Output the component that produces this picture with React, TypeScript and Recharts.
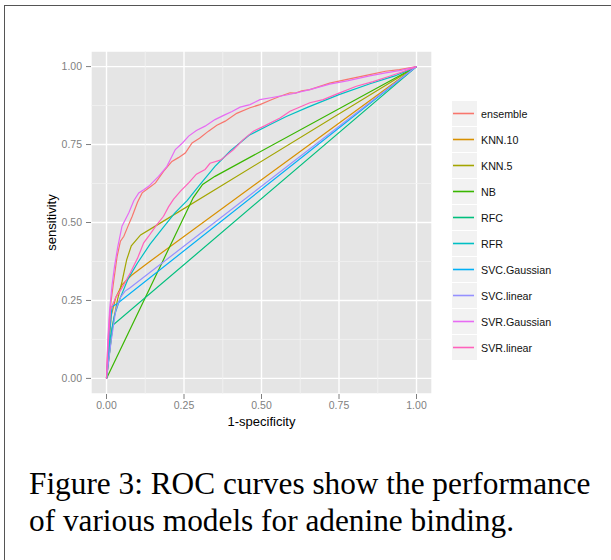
import * as React from 'react'
import {
    LineChart,
    Line,
    XAxis,
    YAxis,
    CartesianGrid,
    ReferenceLine,
} from 'recharts'

// ROC curves, [1-specificity, sensitivity]
const ensemble = [
    [0, 0], [0.004, 0.1], [0.01, 0.2], [0.015, 0.25], [0.023, 0.31], [0.034, 0.39],
    [0.045, 0.44], [0.056, 0.456], [0.07, 0.49], [0.083, 0.52], [0.1, 0.565],
    [0.115, 0.595], [0.135, 0.61], [0.158, 0.627], [0.184, 0.664], [0.211, 0.696],
    [0.232, 0.708], [0.254, 0.723], [0.276, 0.755], [0.3, 0.77], [0.329, 0.793],
    [0.356, 0.812], [0.383, 0.825], [0.42, 0.85], [0.463, 0.868], [0.495, 0.878],
    [0.53, 0.893], [0.56, 0.905], [0.592, 0.916], [0.61, 0.915], [0.63, 0.922],
    [0.656, 0.926], [0.72, 0.947], [0.78, 0.96], [0.849, 0.974], [0.9, 0.985],
    [0.945, 0.99], [1, 1],
]
const knn10 = [
    [0, 0], [0.015, 0.2], [0.03, 0.26], [0.05, 0.3], [0.08, 0.33], [0.13, 0.368], [1, 1],
]
const knn5 = [
    [0, 0], [0.02, 0.17], [0.035, 0.25], [0.05, 0.31], [0.065, 0.38], [0.08, 0.425],
    [0.11, 0.46], [0.16, 0.49], [1, 1],
]
const nb = [
    [0, 0], [0.28, 0.58], [0.31, 0.622], [0.35, 0.648], [1, 1],
]
const rfc = [
    [0, 0], [0.02, 0.17], [1, 1],
]
const rfr = [
    [0, 0], [0.01, 0.12], [0.025, 0.2], [0.045, 0.26], [0.07, 0.32], [0.1, 0.37],
    [0.14, 0.43], [0.18, 0.48], [0.22, 0.53], [0.26, 0.57], [0.3, 0.62], [0.35, 0.68],
    [0.4, 0.73], [0.46, 0.78], [0.52, 0.81], [0.58, 0.84], [0.65, 0.87], [0.75, 0.91],
    [0.85, 0.945], [0.93, 0.97], [1, 1],
]
const svcGaussian = [
    [0, 0], [0.01, 0.15], [0.018, 0.23], [0.035, 0.24], [1, 1],
]
const svcLinear = [
    [0, 0], [0.015, 0.12], [0.03, 0.22], [0.045, 0.26], [0.06, 0.28], [0.075, 0.29], [1, 1],
]
const svrGaussian = [
    [0, 0], [0.004, 0.12], [0.01, 0.22], [0.018, 0.3], [0.026, 0.36], [0.036, 0.42],
    [0.05, 0.488], [0.072, 0.531], [0.088, 0.57], [0.104, 0.595], [0.12, 0.605],
    [0.136, 0.616], [0.168, 0.648], [0.195, 0.68], [0.21, 0.71], [0.222, 0.734],
    [0.245, 0.755], [0.265, 0.777], [0.29, 0.795], [0.318, 0.809], [0.35, 0.83],
    [0.383, 0.846], [0.405, 0.856], [0.431, 0.87], [0.463, 0.878], [0.495, 0.894],
    [0.53, 0.9], [0.56, 0.905], [0.6, 0.913], [0.656, 0.926], [0.72, 0.944],
    [0.78, 0.955], [0.849, 0.97], [0.9, 0.98], [0.95, 0.988], [1, 1],
]
const svrLinear = [
    [0, 0], [0.005, 0.1], [0.013, 0.221], [0.03, 0.26], [0.05, 0.29], [0.077, 0.339],
    [0.1, 0.385], [0.12, 0.435], [0.136, 0.456], [0.16, 0.49], [0.184, 0.52], [0.2, 0.55],
    [0.216, 0.574], [0.238, 0.6], [0.265, 0.627], [0.29, 0.655], [0.318, 0.67],
    [0.334, 0.69], [0.367, 0.7], [0.383, 0.712], [0.41, 0.734], [0.44, 0.765],
    [0.474, 0.793], [0.51, 0.81], [0.56, 0.835], [0.592, 0.857], [0.656, 0.884],
    [0.699, 0.894], [0.75, 0.915], [0.806, 0.937], [0.86, 0.952], [0.913, 0.969],
    [0.96, 0.985], [1, 1],
]

const seriesNames = [
    'ensemble', 'KNN.10', 'KNN.5', 'NB', 'RFC', 'RFR',
    'SVC.Gaussian', 'SVC.linear', 'SVR.Gaussian', 'SVR.linear',
]
const seriesColors = [
    '#F8766D', '#D89000', '#A3A500', '#39B600', '#00BF7D', '#00BFC4',
    '#00B0F6', '#9590FF', '#E76BF3', '#FF62BC',
]
const seriesPoints = [
    ensemble, knn10, knn5, nb, rfc, rfr, svcGaussian, svcLinear, svrGaussian, svrLinear,
]

const majorTicks = [0, 0.25, 0.5, 0.75, 1]
const minorTicks = [0.125, 0.375, 0.625, 0.875]

const series = seriesNames.map((name, i) => ({
    name,
    color: seriesColors[i],
    data: seriesPoints[i].map(([x, y]) => ({ x, y })),
}))

const tickStyle = { fontFamily: 'Liberation Sans, Arial, sans-serif', fontSize: 10.5, fill: '#7F7F7F' }
const titleStyle = { fontFamily: 'Liberation Sans, Arial, sans-serif', fontSize: 13, fill: '#000' }

const RocLegend = () => (
    <div style={{ position: 'absolute', left: 452, top: 101, fontFamily: 'Liberation Sans, Arial, sans-serif', fontSize: 10.7 }}>
        {series.map(s => (
            <div key={s.name} style={{ display: 'flex', alignItems: 'center', height: 26 }}>
                <svg width={25} height={25} style={{ display: 'block', marginBottom: 1 }}>
                    <rect x={0} y={0} width={25} height={25} fill="#F2F2F2" />
                    <line x1={1} y1={12.5} x2={22} y2={12.5} stroke={s.color} strokeWidth={1.6} />
                </svg>
                <span style={{ marginLeft: 4, color: '#111' }}>{s.name}</span>
            </div>
        ))}
    </div>
)

export default function App() {
    return (
        <div style={{ position: 'absolute', left: 0, top: 0, width: 611, height: 560, background: '#fff', overflow: 'hidden' }}>
            <div style={{ position: 'absolute', left: 4, top: 5, width: 620, height: 600, borderLeft: '1.5px solid #555', borderTop: '1.5px solid #555' }} />
            <div style={{ position: 'absolute', left: 0, top: 0 }}>
                <LineChart width={611} height={440} margin={{ top: 51, right: 179, left: 40, bottom: 0 }}>
                    <CartesianGrid fill="#E5E5E5" stroke="#FFFFFF" strokeWidth={1.4} />
                    {minorTicks.map(t => (
                        <ReferenceLine key={'vx' + t} x={t} stroke="#F2F2F2" strokeWidth={0.8} />
                    ))}
                    {minorTicks.map(t => (
                        <ReferenceLine key={'hy' + t} y={t} stroke="#F2F2F2" strokeWidth={0.8} />
                    ))}
                    <XAxis
                        type="number"
                        dataKey="x"
                        domain={[-0.05, 1.05]}
                        ticks={majorTicks}
                        allowDataOverflow
                        tickFormatter={(v: number) => v.toFixed(2)}
                        axisLine={false}
                        tickLine={{ stroke: '#7F7F7F' }}
                        tickSize={5}
                        tickMargin={3}
                        tick={tickStyle}
                        height={46}
                        label={{ value: '1-specificity', position: 'center', dy: 4, style: titleStyle }}
                    />
                    <YAxis
                        type="number"
                        dataKey="y"
                        domain={[-0.05, 1.05]}
                        ticks={majorTicks}
                        allowDataOverflow
                        tickFormatter={(v: number) => v.toFixed(2)}
                        axisLine={false}
                        tickLine={{ stroke: '#7F7F7F' }}
                        tickSize={5}
                        tickMargin={4}
                        tick={tickStyle}
                        width={51}
                        label={{ value: 'sensitivity', angle: -90, position: 'center', dx: -14, style: titleStyle }}
                    />
                    {series.map(s => (
                        <Line
                            key={s.name}
                            data={s.data}
                            dataKey="y"
                            name={s.name}
                            type="linear"
                            stroke={s.color}
                            strokeWidth={1.2}
                            dot={false}
                            isAnimationActive={false}
                        />
                    ))}
                </LineChart>
            </div>
            <RocLegend />
            <div style={{ position: 'absolute', left: 29, top: 465, fontFamily: 'Liberation Serif, Times New Roman, serif', fontSize: 31.3, lineHeight: '37px', color: '#000', width: 590, whiteSpace: 'nowrap' }}>
                Figure 3: ROC curves show the performance<br />
                of various models for adenine binding.
            </div>
        </div>
    )
}
